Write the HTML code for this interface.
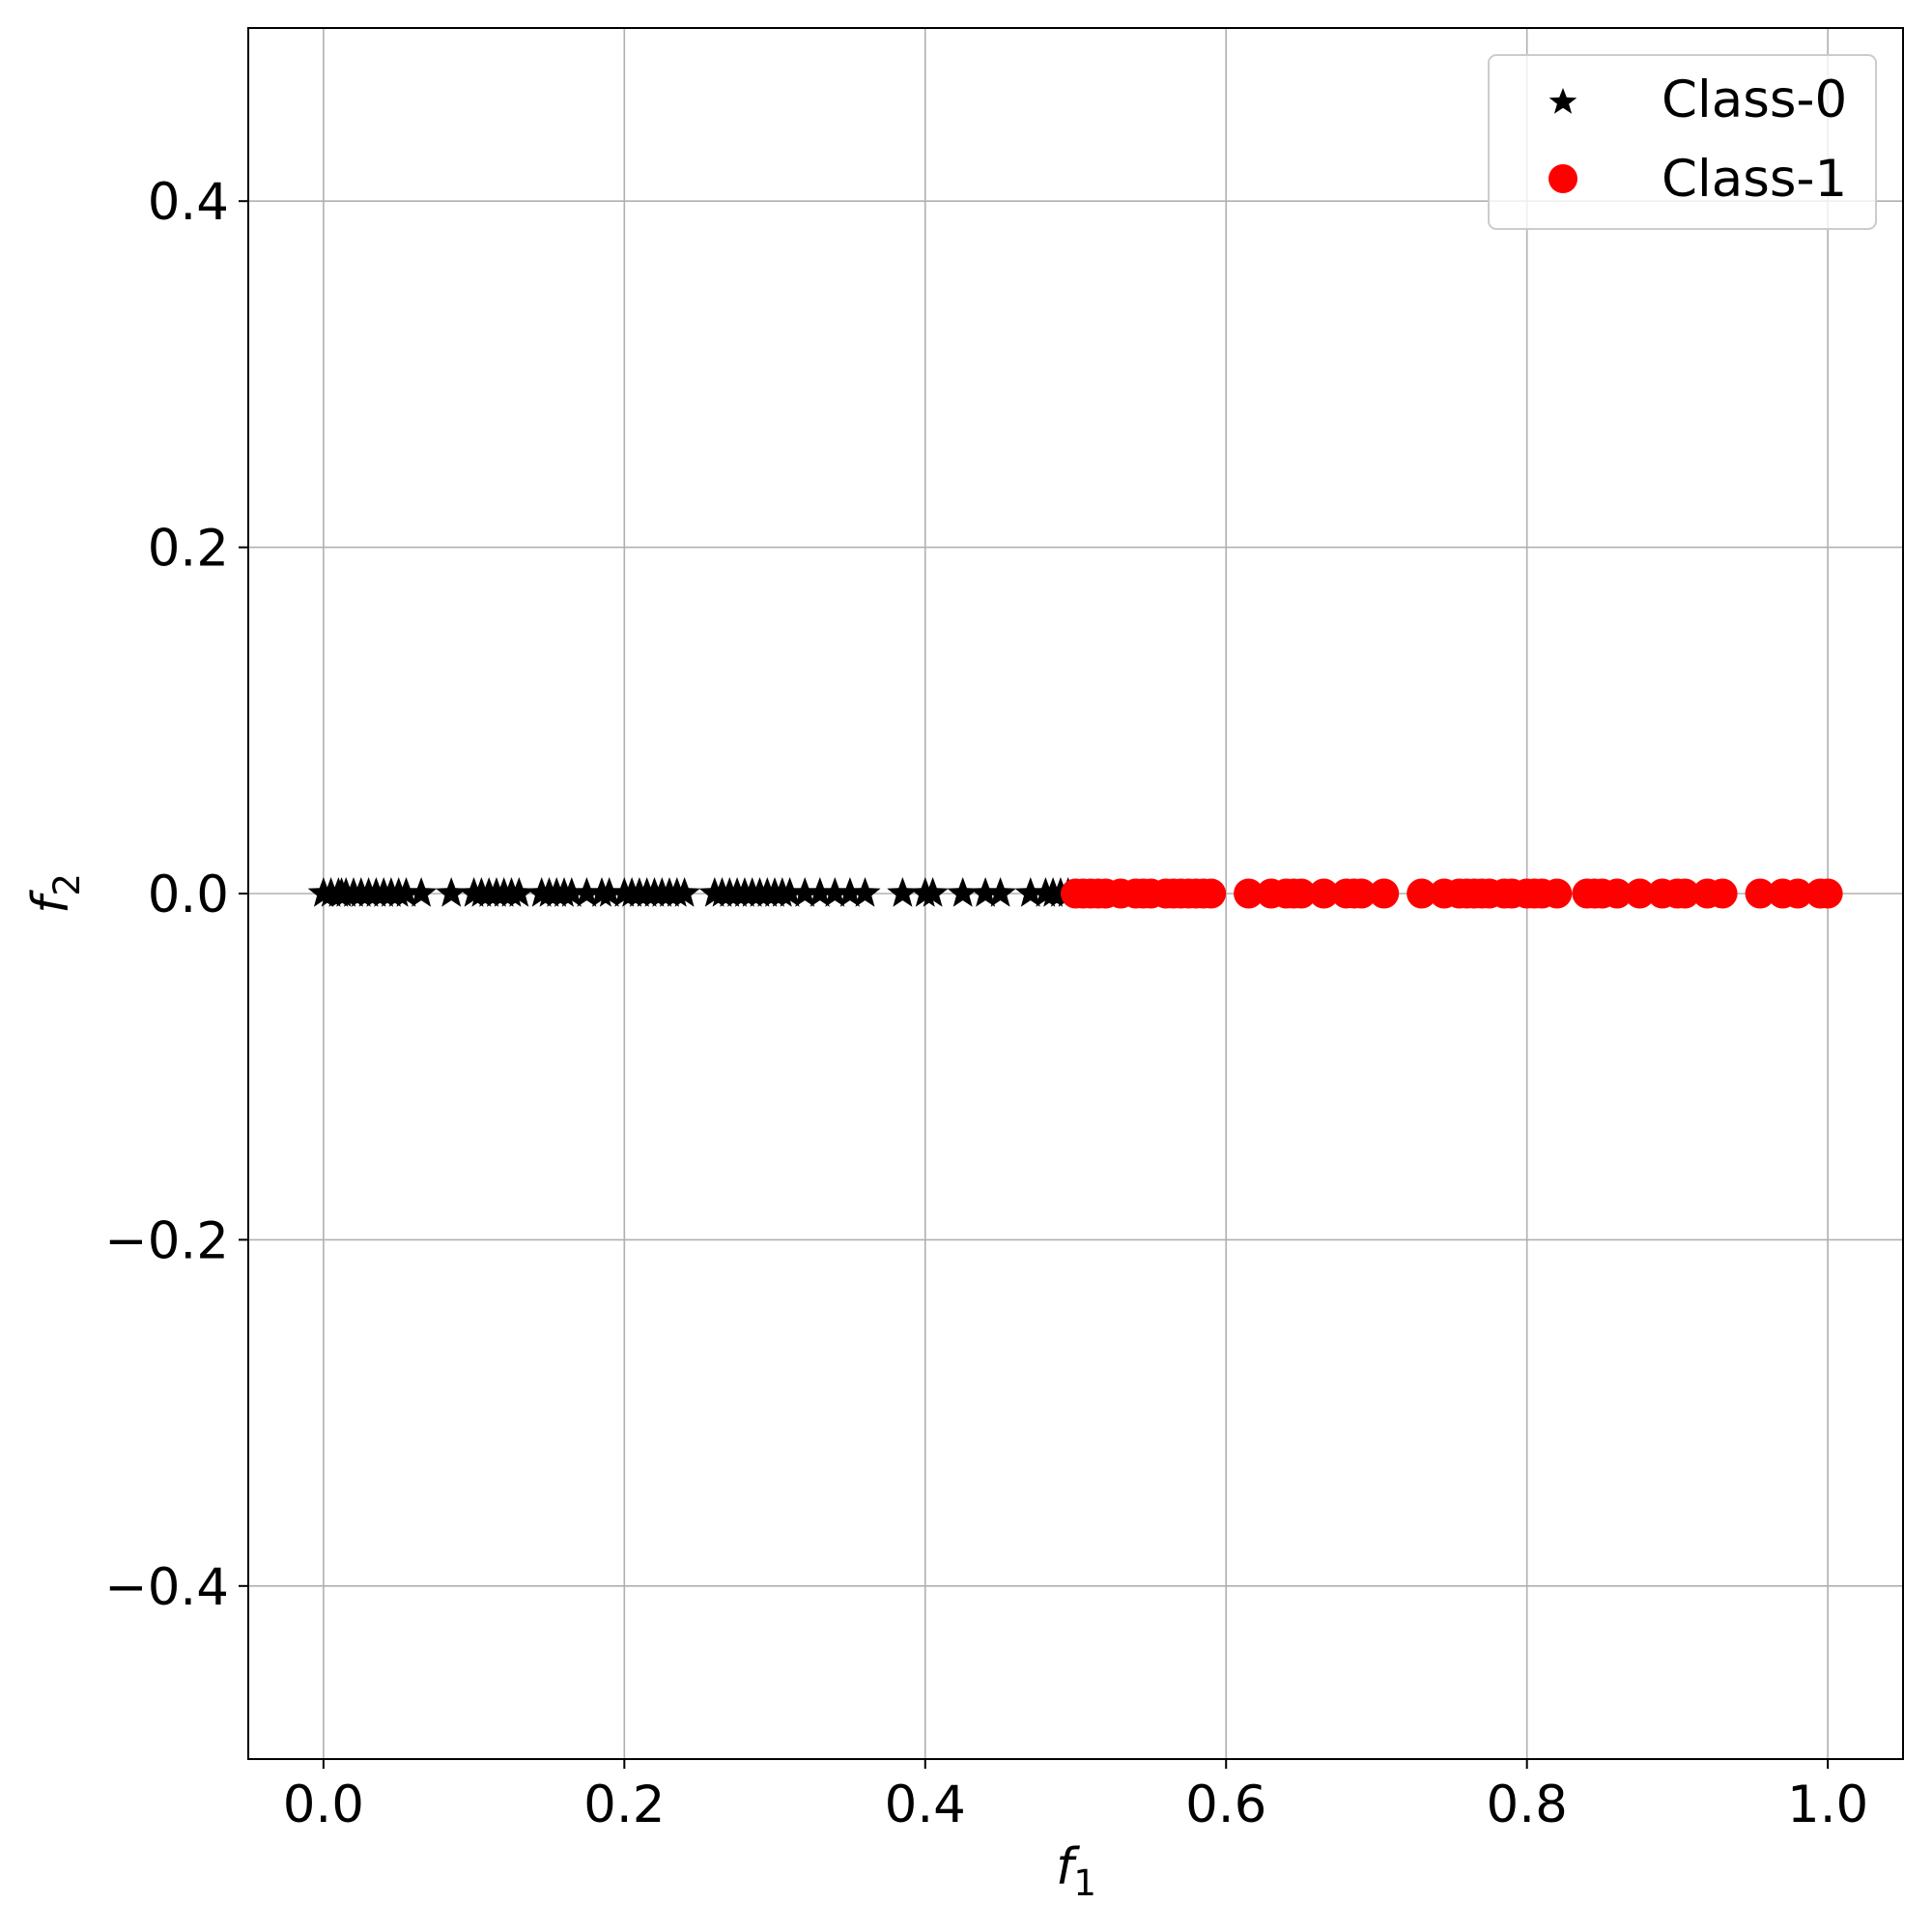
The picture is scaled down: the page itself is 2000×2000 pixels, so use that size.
<!DOCTYPE html>
<html><head><meta charset="utf-8"><style>
html,body{margin:0;padding:0;background:#fff}
svg{display:block;font-family:"DejaVu Sans","Liberation Sans",sans-serif}
</style></head><body>
<svg id="chart" width="2000" height="2000" viewBox="0 0 2000 2000" xmlns="http://www.w3.org/2000/svg">
<rect width="2000" height="2000" fill="#fff"/>
<g id="grid"></g>
<g id="marks"></g>
<rect x="257" y="29" width="1713" height="1792" fill="none" stroke="#000" stroke-width="2"/>
<g id="ticks"></g>
<text x="1114" y="1950" font-size="52" font-style="italic" text-anchor="middle">f<tspan font-size="37" dy="12" font-style="normal">1</tspan></text>
<text transform="translate(70,925) rotate(-90)" font-size="52" font-style="italic" text-anchor="middle">f<tspan font-size="37" dy="12" font-style="normal">2</tspan></text>
<g>
<rect x="1541" y="57" width="401" height="180" rx="8" fill="#fff" fill-opacity="0.8" stroke="#ccc" stroke-width="2"/>
<g>
<path d="M1618,91 L1621.8,100.8 L1632.3,101.2 L1624.1,107.6 L1627.1,117.8 L1618,111.8 L1608.9,117.8 L1611.9,107.6 L1603.7,101.2 L1614.2,100.8 Z" fill="#000"/>
<text x="1720" y="121" font-size="53">Class-0</text></g>
<g>
<circle cx="1618" cy="185" r="15" fill="#f00"/>
<text x="1720" y="203" font-size="53">Class-1</text></g>
</g>
</svg>
<script>
const xTicks=[0.0,0.2,0.4,0.6,0.8,1.0];
const xTickLabels=["0.0","0.2","0.4","0.6","0.8","1.0"];
const yTicks=[0.4,0.2,0.0,-0.2,-0.4];
const yTickLabels=["0.4","0.2","0.0","\u22120.2","\u22120.4"];
const class0X=[0.0,0.005,0.01,0.012,0.015,0.02,0.025,0.03,0.035,0.04,0.045,0.05,0.055,0.065,0.085,0.1,0.105,0.11,0.115,0.12,0.125,0.13,0.145,0.15,0.155,0.16,0.165,0.175,0.185,0.19,0.2,0.205,0.21,0.215,0.22,0.225,0.23,0.235,0.24,0.26,0.265,0.27,0.275,0.28,0.285,0.29,0.295,0.3,0.305,0.31,0.32,0.33,0.34,0.35,0.36,0.385,0.4,0.405,0.425,0.44,0.45,0.47,0.48,0.485,0.49,0.495];
const class0Y=class0X.map(()=>0);
const class1X=[0.5,0.505,0.51,0.515,0.52,0.53,0.54,0.545,0.55,0.56,0.565,0.57,0.575,0.58,0.585,0.59,0.615,0.63,0.64,0.645,0.65,0.665,0.68,0.685,0.69,0.705,0.73,0.745,0.755,0.76,0.765,0.77,0.775,0.785,0.79,0.8,0.805,0.81,0.82,0.84,0.845,0.85,0.86,0.875,0.89,0.9,0.905,0.92,0.93,0.955,0.97,0.98,0.995,1.0];
const class1Y=class1X.map(()=>0);
const NS="http://www.w3.org/2000/svg";
const X0=257,X1=1970,Y0=29,Y1=1821,XMIN=-0.05,XMAX=1.05,YMIN=-0.5,YMAX=0.5;
function sx(v){return X0+(v-XMIN)/(XMAX-XMIN)*(X1-X0);}
function sy(v){return Y1-(v-YMIN)/(YMAX-YMIN)*(Y1-Y0);}
function mk(tag,attrs,parent){const e=document.createElementNS(NS,tag);for(const k in attrs)e.setAttribute(k,attrs[k]);parent.appendChild(e);return e;}
const grid=document.getElementById('grid'),ticks=document.getElementById('ticks'),marks=document.getElementById('marks');
xTicks.forEach((v,i)=>{const x=sx(v);
 const g=mk('line',{x1:x,x2:x,y1:Y0,y2:Y1,stroke:'#b0b0b0','stroke-width':1.6},grid);
 
 
 const t=mk('line',{x1:x,x2:x,y1:Y1,y2:Y1+10,stroke:'#000','stroke-width':2},ticks);
 
 
 const l=mk('text',{x:x,y:Y1+65,'font-size':53,'text-anchor':'middle'},ticks);l.textContent=xTickLabels[i];
 
 
});
yTicks.forEach((v,i)=>{const y=sy(v);
 const g=mk('line',{x1:X0,x2:X1,y1:y,y2:y,stroke:'#b0b0b0','stroke-width':1.6},grid);
 
 
 const t=mk('line',{x1:X0-10,x2:X0,y1:y,y2:y,stroke:'#000','stroke-width':2},ticks);
 
 
 const l=mk('text',{x:X0-20,y:y+19,'font-size':53,'text-anchor':'end'},ticks);l.textContent=yTickLabels[i];
 
 
});
function star(cx,cy,r){let p=[];for(let k=0;k<10;k++){const a=-Math.PI/2+k*Math.PI/5;const rr=k%2?r*0.42:r;p.push((cx+rr*Math.cos(a)).toFixed(1)+','+(cy+rr*Math.sin(a)).toFixed(1));}return p.join(' ');}
class0X.forEach((v,i)=>{const s=mk('polygon',{points:star(sx(v),sy(class0Y[i]),17),fill:'#000'},marks);
 
 
});
class1X.forEach((v,i)=>{const c=mk('circle',{cx:sx(v),cy:sy(class1Y[i]),r:15.5,fill:'#f00'},marks);
 
 
});
</script>
</body></html>
